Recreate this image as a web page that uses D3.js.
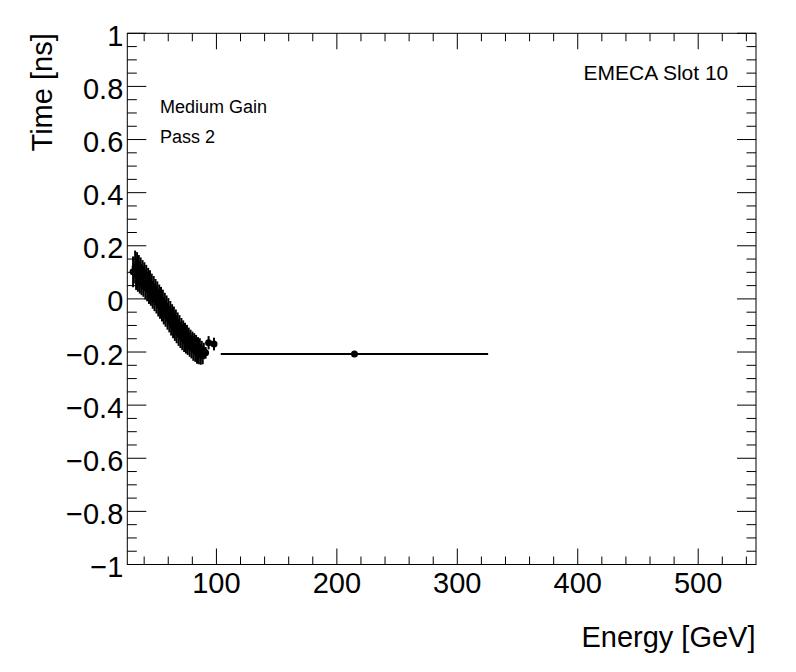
<!DOCTYPE html>
<html>
<head>
<meta charset="utf-8">
<script src="https://cdn.jsdelivr.net/npm/d3@7"></script>
<style>
html,body{margin:0;padding:0;background:#fff;}
svg{display:block;}
text{font-family:"Liberation Sans",Arial,Helvetica,sans-serif;fill:#000;}
</style>
</head>
<body>
<svg id="c" width="796" height="672"></svg>
<script>
// ---- data ----
const energy = [30.8,32.5,33.3,34.1,34.8,35.6,36.4,37.1,37.9,38.7,39.4,40.2,41.0,41.7,42.5,43.3,44.0,44.8,45.6,46.3,
  47.1,47.9,48.6,49.4,50.2,50.9,51.7,52.5,53.2,54.0,54.8,55.5,56.3,57.1,57.8,58.6,59.4,60.1,60.9,61.7,
  62.4,63.2,64.0,64.7,65.5,66.3,67.0,67.8,68.6,69.3,70.1,70.9,71.6,72.4,73.2,73.9,74.7,75.5,76.2,77.0,
  77.8,78.5,79.3,80.1,80.8,81.6,82.4,83.1,83.9,84.7,85.4,86.2,87.0,87.8,88.6,89.5,91.0,93.5,98.0,214.6];
const time = [0.102,0.120,0.092,0.115,0.086,0.108,0.080,0.100,0.072,0.091,0.066,0.084,0.054,0.075,0.046,0.064,0.035,0.057,0.027,0.045,
  0.015,0.036,0.006,0.026,-0.004,0.017,-0.015,0.006,-0.025,-0.003,-0.035,-0.012,-0.046,-0.024,-0.056,-0.034,-0.066,-0.043,-0.077,-0.054,
  -0.088,-0.066,-0.099,-0.075,-0.108,-0.085,-0.118,-0.096,-0.127,-0.106,-0.136,-0.116,-0.145,-0.125,-0.152,-0.133,-0.159,-0.141,-0.165,-0.150,
  -0.172,-0.157,-0.179,-0.163,-0.187,-0.168,-0.193,-0.174,-0.200,-0.180,-0.205,-0.185,-0.209,-0.191,-0.212,-0.196,-0.203,-0.165,-0.170,-0.207];
const timeErr = [0.058,0.062,0.058,0.061,0.059,0.057,0.060,0.056,0.058,0.055,0.058,0.054,0.056,0.053,0.055,0.053,0.054,0.051,0.053,0.050,
  0.052,0.050,0.052,0.049,0.051,0.049,0.051,0.048,0.050,0.048,0.050,0.047,0.050,0.047,0.049,0.047,0.050,0.046,0.049,0.046,
  0.050,0.046,0.049,0.046,0.050,0.045,0.049,0.045,0.050,0.045,0.049,0.044,0.048,0.044,0.048,0.043,0.047,0.043,0.046,0.042,
  0.046,0.041,0.045,0.040,0.046,0.039,0.044,0.038,0.044,0.036,0.041,0.037,0.039,0.033,0.034,0.031,0.022,0.025,0.024,0.004];
const energyErr = [0.3,0.3,0.3,0.3,0.3,0.3,0.3,0.3,0.3,0.3,0.3,0.3,0.3,0.3,0.3,0.3,0.3,0.3,0.3,0.3,
  0.3,0.3,0.3,0.3,0.3,0.3,0.3,0.3,0.3,0.3,0.3,0.3,0.3,0.3,0.3,0.3,0.3,0.3,0.3,0.3,
  0.3,0.3,0.3,0.3,0.3,0.3,0.3,0.3,0.3,0.3,0.3,0.3,0.3,0.3,0.3,0.3,0.3,0.3,0.3,0.3,
  0.3,0.3,0.3,0.3,0.3,0.3,0.3,0.3,0.3,0.3,0.3,0.3,0.3,0.3,0.3,0.4,0.6,2.0,2.0,111.0];
const xMajorTicks = [100,200,300,400,500];
const yMajorTicks = [-1,-0.8,-0.6,-0.4,-0.2,0,0.2,0.4,0.6,0.8,1];
const xDomain = [26,548];
const yDomain = [-1,1];
const xTitle = "Energy [GeV]";
const yTitle = "Time [ns]";
const labels = ["Medium Gain","Pass 2"];
const slotLabel = "EMECA Slot 10";

// ---- layout ----
const L=127.3, R=756, T=33.3, B=564.5;
const svg = d3.select("#c");
const x = d3.scaleLinear().domain(xDomain).range([L,R]);
const y = d3.scaleLinear().domain(yDomain).range([B,T]);

const xMinor = d3.range(40,548,20).filter(v=>!xMajorTicks.includes(v));
const yMinor = d3.range(-1,1.0001,0.05).map(v=>+v.toFixed(2)).filter(v=>!yMajorTicks.some(m=>Math.abs(m-v)<1e-6));

const g = svg.append("g");
g.append("rect").attr("x",L).attr("y",T).attr("width",R-L).attr("height",B-T)
 .attr("fill","none").attr("stroke","#000").attr("stroke-width",1);

function line(x1,y1,x2,y2,w){g.append("line").attr("x1",x1).attr("y1",y1).attr("x2",x2).attr("y2",y2).attr("stroke","#000").attr("stroke-width",w||1);}

xMajorTicks.forEach(v=>{const px=x(v); line(px,B,px,B-16); line(px,T,px,T+16);});
xMinor.forEach(v=>{const px=x(v); line(px,B,px,B-8); line(px,T,px,T+8);});
yMajorTicks.forEach(v=>{const py=y(v); line(L,py,L+19,py); line(R,py,R-19,py);});
yMinor.forEach(v=>{const py=y(v); line(L,py,L+9.5,py); line(R,py,R-9.5,py);});

const fmt = d3.format("~g");
g.selectAll(".xl").data(xMajorTicks).enter().append("text")
 .attr("x",d=>x(d)).attr("y",B+28.5).attr("text-anchor","middle").attr("font-size",29).text(d=>fmt(d));
g.selectAll(".yl").data(yMajorTicks).enter().append("text")
 .attr("x",L-4).attr("y",d=>y(d)+12.5).attr("text-anchor","end").attr("font-size",29).text(d=>fmt(d));

g.append("text").attr("x",755.5).attr("y",646.7).attr("text-anchor","end").attr("font-size",29).text(xTitle);
g.append("text").attr("transform","translate(51.7,33.3) rotate(-90)").attr("text-anchor","end").attr("font-size",29).text(yTitle);
g.append("text").attr("x",160).attr("y",113.3).attr("font-size",18).text(labels[0]);
g.append("text").attr("x",160).attr("y",143).attr("font-size",18).text(labels[1]);
g.append("text").attr("x",728.3).attr("y",80).attr("text-anchor","end").attr("font-size",21).text(slotLabel);

// data
const pts = energy.map((e,i)=>({e, t:time[i], et:timeErr[i], ee:energyErr[i]}));
const dg = svg.append("g");
dg.selectAll(".ey").data(pts).enter().append("line")
 .attr("x1",d=>x(d.e)).attr("x2",d=>x(d.e))
 .attr("y1",d=>y(d.t-d.et)).attr("y2",d=>y(d.t+d.et))
 .attr("stroke","#000").attr("stroke-width",2);
dg.selectAll(".ex").data(pts).enter().append("line")
 .attr("x1",d=>x(d.e-d.ee)).attr("x2",d=>x(d.e+d.ee))
 .attr("y1",d=>y(d.t)).attr("y2",d=>y(d.t))
 .attr("stroke","#000").attr("stroke-width",2);
dg.selectAll("circle").data(pts).enter().append("circle")
 .attr("cx",d=>x(d.e)).attr("cy",d=>y(d.t)).attr("r",3.5)
 .attr("fill","#000");
</script>
</body>
</html>
